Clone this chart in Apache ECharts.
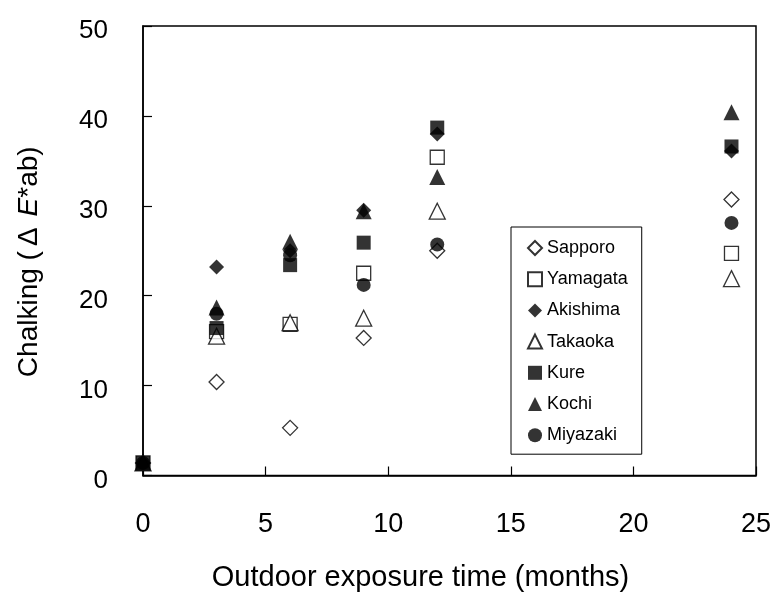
<!DOCTYPE html>
<html>
<head>
<meta charset="utf-8">
<script src="https://cdn.jsdelivr.net/npm/echarts@6/dist/echarts.min.js"></script>
<style>html,body{margin:0;padding:0;background:#fff;}#c{width:772px;height:601px;}</style>
</head>
<body>
<div id="c"></div>
<script>
var months = [0, 3, 6, 9, 12, 24];
var sapporo  = [1.4, 10.4, 5.3, 15.3, 25.0, 30.7];
var yamagata = [1.4, 16.0, 16.8, 22.5, 35.4, 24.7];
var akishima = [1.4, 23.2, 25.0, 29.5, 38.0, 36.1];
var takaoka  = [1.4, 15.5, 17.0, 17.5, 29.4, 21.9];
var kure     = [1.4, 16.4, 23.4, 25.9, 38.7, 36.6];
var kochi    = [1.4, 18.7, 26.0, 29.4, 33.2, 40.4];
var miyazaki = [1.4, 18.0, 24.5, 21.2, 25.7, 28.1];
var xTicks = [0, 5, 10, 15, 20, 25];
var yTicks = [0, 10, 20, 30, 40, 50];

function pts(v){ return months.map(function(m,i){ return [m, v[i]]; }); }
function ser(name, data, symbol, size, filled){
  return {
    name: name, type: 'scatter', data: pts(data), symbol: symbol, symbolSize: size,
    itemStyle: filled ? {color: '#000', borderColor: '#000', borderWidth: 0}
                      : {color: '#fff', borderColor: '#000', borderWidth: 1.3},
    emphasis: {disabled: true}
  };
}
var F = 'Liberation Sans, Arial, sans-serif';
var chart = echarts.init(document.getElementById('c'));
chart.setOption({
  animation: false,
  backgroundColor: '#fff',
  grid: {left: 143, right: 16, top: 26, bottom: 125.5, show: true, borderColor: '#000', borderWidth: 1.5, outerBoundsMode: 'none'},
  xAxis: {
    type: 'value', min: xTicks[0], max: xTicks[xTicks.length-1], interval: 5,
    axisLine: {lineStyle: {color: '#000', width: 1.5}},
    axisTick: {inside: true, length: 9, lineStyle: {color: '#000', width: 1.2}},
    splitLine: {show: false},
    axisLabel: {color: '#000', fontSize: 27, margin: 36, fontFamily: F},
    name: 'Outdoor exposure time (months)', nameLocation: 'middle', nameGap: 86,
    nameTextStyle: {color: '#000', fontSize: 29, fontFamily: F, padding: [2, 58, 0, 0]}
  },
  yAxis: {
    type: 'value', min: yTicks[0], max: yTicks[yTicks.length-1], interval: 10,
    axisLine: {lineStyle: {color: '#000', width: 1.5}},
    axisTick: {inside: true, length: 9, lineStyle: {color: '#000', width: 1.2}},
    splitLine: {show: false},
    axisLabel: {color: '#000', fontSize: 26, margin: 35, fontFamily: F,
      formatter: '{v|{value}}',
      rich: {v: {fontSize: 26, color: '#000', fontFamily: F, lineHeight: 36, verticalAlign: 'bottom'}}},
    name: '{n|Chalking (}{d|\u0394}{i|E}{n|*ab)}{s|}', nameLocation: 'middle', nameGap: 100, nameRotate: 90,
    nameTextStyle: {color: '#000', fontSize: 28, fontFamily: F,
      rich: {n: {fontSize: 28, color: '#000', fontFamily: F},
             d: {fontSize: 28, color: '#000', fontFamily: F, padding: [0, 11, 0, 5]},
             i: {fontSize: 28, color: '#000', fontStyle: 'italic', fontFamily: F},
             s: {fontSize: 28, width: 22}}}
  },
  legend: {
    orient: 'vertical', left: 511, top: 227,
    padding: [12, 14, 10, 16],
    backgroundColor: '#fff', borderColor: '#000', borderWidth: 1,
    itemWidth: 14, itemHeight: 14, itemGap: 13.2,
    textStyle: {color: '#000', fontSize: 18, fontFamily: F},
    data: ['Sapporo','Yamagata','Akishima','Takaoka','Kure','Kochi','Miyazaki']
  },
  series: [
    ser('Sapporo', sapporo, 'diamond', 15, false),
    ser('Yamagata', yamagata, 'rect', 14, false),
    ser('Akishima', akishima, 'diamond', 15, true),
    ser('Takaoka', takaoka, 'triangle', 16, false),
    ser('Kure', kure, 'rect', 14, true),
    ser('Kochi', kochi, 'triangle', 16, true),
    ser('Miyazaki', miyazaki, 'circle', 14, true)
  ]
});
</script>
</body>
</html>
